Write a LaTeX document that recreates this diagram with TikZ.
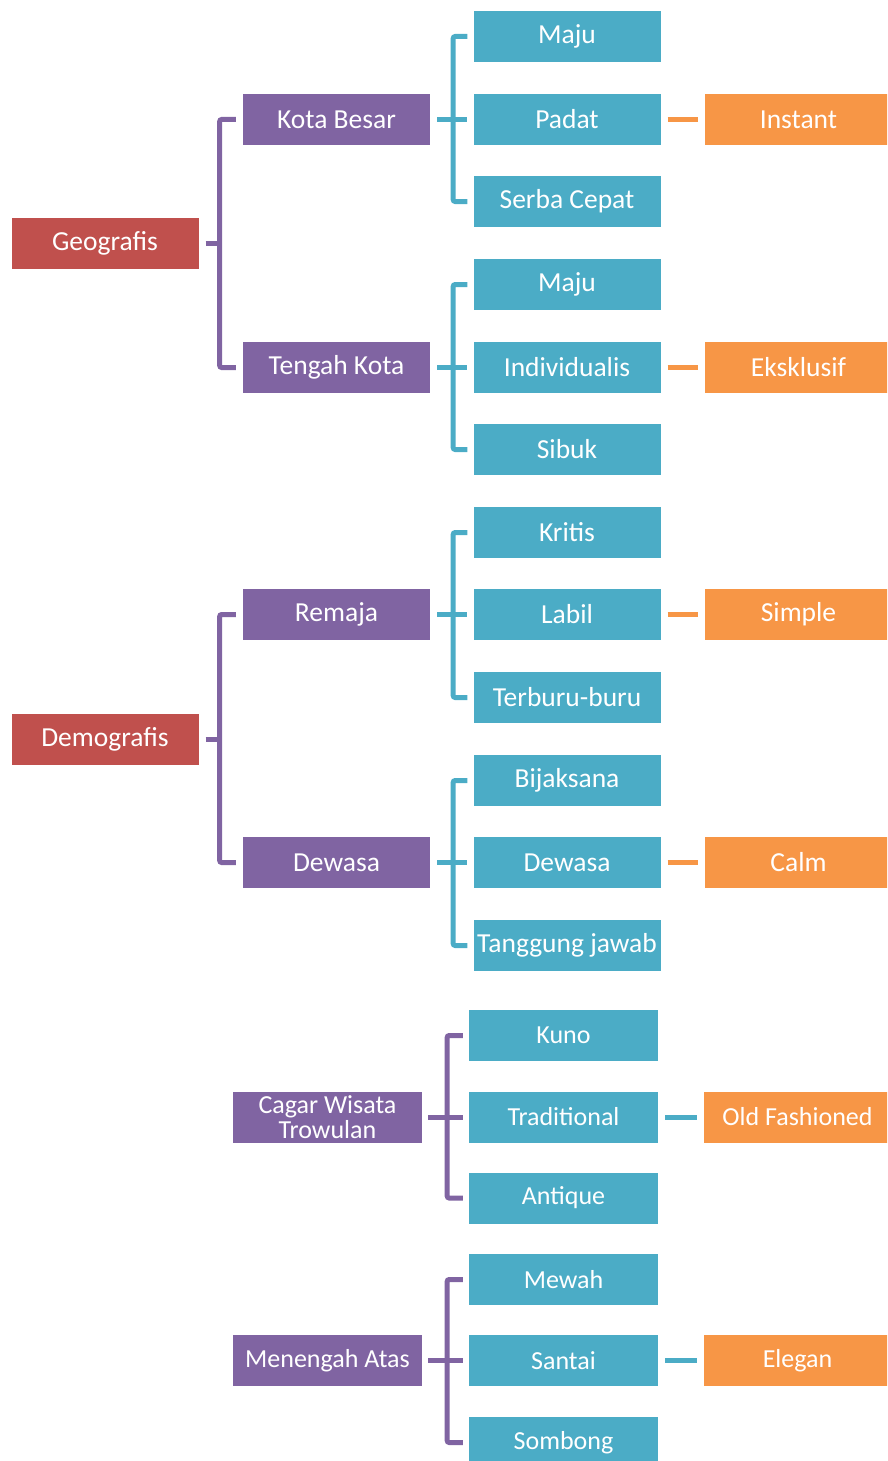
\documentclass[tikz,border=0pt]{standalone}
\usepackage{fontspec}
\setmainfont{Carlito}
\definecolor{boxred}{HTML}{C0504D}
\definecolor{boxpurple}{HTML}{8064A2}
\definecolor{boxteal}{HTML}{4BACC6}
\definecolor{boxorange}{HTML}{F79646}
\begin{document}
\begin{tikzpicture}[x=1pt,y=-1pt,
  box/.style={minimum width=187pt,minimum height=51pt,inner sep=1pt,text=white,align=center,font=\fontsize{27.5}{30}\selectfont},
  sbox/.style={box,minimum width=189pt,font=\fontsize{26}{25}\selectfont},
  rbox/.style={box,fill=boxred}, pbox/.style={box,fill=boxpurple}, tbox/.style={box,fill=boxteal}, obox/.style={box,fill=boxorange},
  pline/.style={boxpurple,line width=5pt,rounded corners=2pt}, tline/.style={boxteal,line width=5pt,rounded corners=2pt},
  oline/.style={boxorange,line width=5pt,shorten <=7pt,shorten >=7pt}]
  \useasboundingbox (0,0) rectangle (887,1461); \clip (0,0) rectangle (887,1461);
  % first level
  \node[rbox] (geo) at (105,243.5) {Geografis}; \node[rbox] (demo) at (105,739) {Demografis};
  % second level
  \node[pbox] (kb) at (336.5,119.5) {Kota Besar}; \node[pbox] (tk) at (336.5,367.5) {Tengah Kota};
  \node[pbox] (rem) at (336.5,614.5) {Remaja}; \node[pbox] (dws) at (336.5,862.5) {Dewasa};
  \node[pbox,sbox] (cagar) at (327.5,1117) {Cagar Wisata\\Trowulan}; \node[pbox,sbox] (atas) at (327.5,1360.5) {Menengah Atas};
  % third level
  \node[tbox] (maju1) at (567,36.5) {Maju}; \node[tbox] (padat) at (567,119.5) {Padat}; \node[tbox] (serba) at (567,201.5) {Serba Cepat};
  \node[tbox] (maju2) at (567,284.5) {Maju}; \node[tbox] (indiv) at (567,367.5) {Individualis}; \node[tbox] (sibuk) at (567,449.5) {Sibuk};
  \node[tbox] (kritis) at (567,532.5) {Kritis}; \node[tbox] (labil) at (567,614.5) {Labil}; \node[tbox] (buru) at (567,697.5) {Terburu-buru};
  \node[tbox] (bijak) at (567,780.5) {Bijaksana}; \node[tbox] (tdws) at (567,862.5) {Dewasa}; \node[tbox] (tjawab) at (567,945.5) {Tanggung jawab};
  \node[tbox,sbox] (kuno) at (563.5,1035.5) {Kuno}; \node[tbox,sbox] (trad) at (563.5,1117) {Traditional}; \node[tbox,sbox] (antik) at (563.5,1198) {Antique};
  \node[tbox,sbox] (mewah) at (563.5,1279.5) {Mewah}; \node[tbox,sbox] (santai) at (563.5,1360.5) {Santai}; \node[tbox,sbox] (sombong) at (563.5,1442.5) {Sombong};
  % fourth level
  \node[obox] (instant) at (798.5,119.5) {Instant}; \node[obox] (eksklusif) at (798.5,367.5) {Eksklusif};
  \node[obox] (simple) at (798.5,614.5) {Simple}; \node[obox] (calm) at (798.5,862.5) {Calm};
  \node[obox,sbox,minimum width=187pt] (oldf) at (797.5,1117) {Old Fashioned}; \node[obox,sbox,minimum width=187pt] (elegan) at (797.5,1360.5) {Elegan};
  % brackets
  \draw[pline] ([xshift=-7pt]kb.west) -| ([xshift=21pt]geo.east) |- ([xshift=-7pt]tk.west); \draw[pline] ([xshift=7pt]geo.east) -- ([xshift=21pt]geo.east);
  \draw[pline] ([xshift=-7pt]rem.west) -| ([xshift=21pt]demo.east) |- ([xshift=-7pt]dws.west); \draw[pline] ([xshift=7pt]demo.east) -- ([xshift=21pt]demo.east);
  \draw[tline] ([xshift=-6pt]maju1.west) -| ([xshift=23pt]kb.east) |- ([xshift=-6pt]serba.west); \draw[tline] ([xshift=7pt]kb.east) -- ([xshift=-6pt]padat.west);
  \draw[tline] ([xshift=-6pt]maju2.west) -| ([xshift=23pt]tk.east) |- ([xshift=-6pt]sibuk.west); \draw[tline] ([xshift=7pt]tk.east) -- ([xshift=-6pt]indiv.west);
  \draw[tline] ([xshift=-6pt]kritis.west) -| ([xshift=23pt]rem.east) |- ([xshift=-6pt]buru.west); \draw[tline] ([xshift=7pt]rem.east) -- ([xshift=-6pt]labil.west);
  \draw[tline] ([xshift=-6pt]bijak.west) -| ([xshift=23pt]dws.east) |- ([xshift=-6pt]tjawab.west); \draw[tline] ([xshift=7pt]dws.east) -- ([xshift=-6pt]tdws.west);
  \draw[pline] ([xshift=-6pt]kuno.west) -| ([xshift=25pt]cagar.east) |- ([xshift=-6pt]antik.west); \draw[pline] ([xshift=6pt]cagar.east) -- ([xshift=-6pt]trad.west);
  \draw[pline] ([xshift=-6pt]mewah.west) -| ([xshift=25pt]atas.east) |- ([xshift=-6pt]sombong.west); \draw[pline] ([xshift=6pt]atas.east) -- ([xshift=-6pt]santai.west);
  % links
  \draw[oline] (padat) -- (instant); \draw[oline] (indiv) -- (eksklusif); \draw[oline] (labil) -- (simple); \draw[oline] (tdws) -- (calm);
  \draw[oline,boxteal] (trad) -- (oldf); \draw[oline,boxteal] (santai) -- (elegan);
\end{tikzpicture}
\end{document}
